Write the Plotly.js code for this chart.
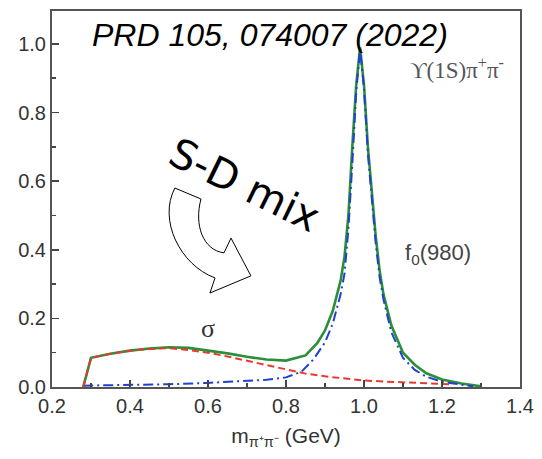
<!DOCTYPE html>
<html>
<head>
<meta charset="utf-8">
<script src="https://cdn.plot.ly/plotly-3.0.1.min.js"></script>
<style>
  html, body { margin: 0; padding: 0; background: #fff; }
  #chart { width: 542px; height: 459px; }
</style>
</head>
<body>
<div id="chart"></div>
<script>
// Total fit (S-D mixed) to the Υ(1S)π+π- invariant-mass spectrum
const massTotal = [0.28, 0.30, 0.35, 0.40, 0.45, 0.50, 0.55, 0.60, 0.65, 0.70, 0.75, 0.80,
                   0.85, 0.88, 0.90, 0.92, 0.94, 0.95, 0.96, 0.97, 0.98, 0.99, 1.00, 1.01,
                   1.02, 1.03, 1.04, 1.05, 1.07, 1.10, 1.13, 1.16, 1.20, 1.25, 1.30];
const total     = [0.000, 0.085, 0.097, 0.106, 0.112, 0.116, 0.114, 0.107, 0.098, 0.088, 0.080, 0.077,
                   0.092, 0.128, 0.165, 0.222, 0.310, 0.380, 0.500, 0.700, 0.880, 0.990, 0.880, 0.700,
                   0.560, 0.440, 0.340, 0.270, 0.180, 0.100, 0.065, 0.040, 0.022, 0.010, 0.002];

// σ contribution
const massSigma = [0.28, 0.30, 0.35, 0.40, 0.45, 0.50, 0.55, 0.60, 0.65, 0.70, 0.75, 0.80,
                   0.85, 0.90, 0.95, 1.00, 1.05, 1.10, 1.15, 1.20, 1.22];
const sigma     = [0.000, 0.085, 0.097, 0.106, 0.111, 0.113, 0.108, 0.100, 0.089, 0.077, 0.064, 0.051,
                   0.039, 0.031, 0.025, 0.019, 0.016, 0.013, 0.011, 0.009, 0.008];

// f0(980) contribution
const massF0 = [0.28, 0.35, 0.40, 0.50, 0.60, 0.70, 0.75, 0.80, 0.84, 0.87, 0.90, 0.92,
                0.94, 0.95, 0.96, 0.97, 0.98, 0.99, 1.00, 1.01, 1.02, 1.03, 1.04, 1.05,
                1.07, 1.10, 1.13, 1.16, 1.20, 1.25, 1.28];
const f0     = [0.004, 0.005, 0.006, 0.008, 0.012, 0.017, 0.021, 0.028, 0.045, 0.080, 0.130, 0.185,
                0.270, 0.330, 0.460, 0.650, 0.860, 0.985, 0.870, 0.680, 0.540, 0.420, 0.320, 0.255,
                0.160, 0.085, 0.050, 0.030, 0.015, 0.006, 0.002];

const xTicks = [0.2, 0.4, 0.6, 0.8, 1.0, 1.2, 1.4];
const yTicks = [0.0, 0.2, 0.4, 0.6, 0.8, 1.0];

const traces = [
  { x: massTotal, y: total, mode: 'lines', name: 'total',
    line: { color: '#2b8f39', width: 2.6 } },
  { x: massF0, y: f0, mode: 'lines', name: 'f0(980)',
    line: { color: '#2040d0', width: 2, dash: '10px,4px,2px,4px' } },
  { x: massSigma, y: sigma, mode: 'lines', name: 'σ',
    line: { color: '#e8392f', width: 2, dash: '7px,4px' } }
];

const tickFont = { family: '"Liberation Sans", Arial, sans-serif', size: 20, color: '#333' };

const layout = {
  width: 542, height: 459,
  margin: { l: 52, r: 22, t: 11, b: 72 },
  paper_bgcolor: '#fff', plot_bgcolor: '#fff',
  showlegend: false,
  font: { family: '"Liberation Sans", Arial, sans-serif', color: '#333' },
  xaxis: {
    range: [0.2, 1.4],
    tickvals: xTicks, ticktext: xTicks.map(v => v.toFixed(1)),
    ticks: 'inside', ticklen: 7, tickwidth: 1.5, tickcolor: '#444',
    minor: { dtick: 0.1, tick0: 0.2, ticks: 'inside', ticklen: 4, tickwidth: 1.5, tickcolor: '#444' },
    showgrid: false, zeroline: false,
    showline: true, linecolor: '#555', linewidth: 2, mirror: true,
    tickfont: tickFont,
    title: { text: 'm<sub>π⁺π⁻</sub> (GeV)', font: { size: 21, color: '#333' }, standoff: 12 }
  },
  yaxis: {
    range: [0, 1.096],
    tickvals: yTicks, ticktext: yTicks.map(v => v.toFixed(1)),
    ticks: 'inside', ticklen: 7, tickwidth: 1.5, tickcolor: '#444',
    minor: { dtick: 0.1, tick0: 0, ticks: 'inside', ticklen: 4, tickwidth: 1.5, tickcolor: '#444' },
    showgrid: false, zeroline: false,
    showline: true, linecolor: '#555', linewidth: 2, mirror: true,
    tickfont: tickFont
  },
  shapes: [
    // hollow curved arrow under the "S-D mix" note
    { type: 'path', xref: 'x', yref: 'y',
      path: 'M 0.515,0.580 L 0.582,0.548 C 0.564,0.472 0.587,0.399 0.641,0.391 ' +
            'L 0.659,0.434 L 0.710,0.324 L 0.605,0.274 L 0.618,0.318 ' +
            'C 0.528,0.356 0.472,0.487 0.515,0.580 Z',
      line: { color: '#000', width: 1 }, fillcolor: '#fff' }
  ],
  annotations: [
    { text: '<i>PRD 105, 074007 (2022)</i>', x: 0.758, y: 1.025, xref: 'x', yref: 'y',
      xanchor: 'center', yanchor: 'middle', showarrow: false,
      font: { family: '"Liberation Sans", Arial, sans-serif', size: 32, color: '#000' } },
    { text: 'ϒ(1S)π<sup>+</sup>π<sup>-</sup>', x: 1.365, y: 0.928, xref: 'x', yref: 'y',
      xanchor: 'right', yanchor: 'middle', showarrow: false,
      font: { family: '"Liberation Serif", "Times New Roman", serif', size: 23, color: '#555' } },
    { text: 'f<sub>0</sub>(980)', x: 1.19, y: 0.388, xref: 'x', yref: 'y',
      xanchor: 'center', yanchor: 'middle', showarrow: false,
      font: { family: '"Liberation Sans", Arial, sans-serif', size: 22, color: '#444' } },
    { text: 'σ', x: 0.600, y: 0.170, xref: 'x', yref: 'y',
      xanchor: 'center', yanchor: 'middle', showarrow: false,
      font: { family: '"Liberation Serif", "Times New Roman", serif', size: 26, color: '#333' } },
    { text: 'S-D mix', x: 0.693, y: 0.588, xref: 'x', yref: 'y',
      xanchor: 'center', yanchor: 'middle', showarrow: false, textangle: 26,
      font: { family: '"DejaVu Sans", Verdana, sans-serif', size: 41, color: '#000' } }
  ]
};

Plotly.newPlot('chart', traces, layout, { displayModeBar: false, staticPlot: true });
</script>
</body>
</html>
